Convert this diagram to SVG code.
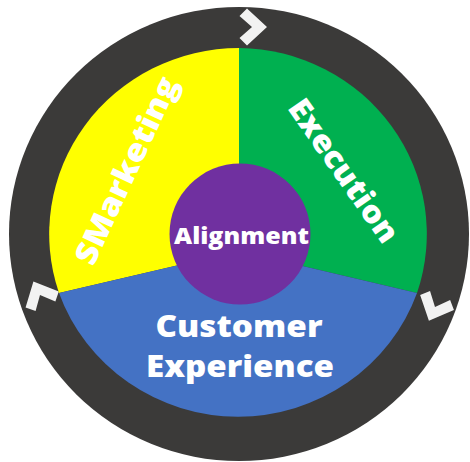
<svg xmlns="http://www.w3.org/2000/svg" width="470" height="462" viewBox="0 0 470 462">
<defs>
<style>
.lbl{font-family:"Open Sans","Liberation Sans",sans-serif;font-weight:800;fill:#ffffff;text-anchor:middle}
.chev{fill:#f2f2f2}
</style>
<polygon id="chevron" points="-5,-18.5 15,0 -5,18.5 -12.5,11 0,0 -12.5,-11"/>
</defs>
<rect width="470" height="462" fill="#ffffff"/>
<g id="ring">
<ellipse cx="239" cy="234" rx="230" ry="227" fill="#3b3a39"/>
</g>
<g id="connectors">
<use href="#chevron" class="chev" transform="translate(252,27)"/>
<use href="#chevron" class="chev" transform="translate(435,307) rotate(114)"/>
<use href="#chevron" class="chev" transform="translate(40,295) rotate(-116)"/>
</g>
<g id="smarketing">
<path d="M239,251 L239,48 A190,186 0 0,0 59,293 Z" fill="#ffff00"/>
<text class="lbl" font-size="31" textLength="203" lengthAdjust="spacingAndGlyphs" transform="translate(131.5,173) rotate(-65)" y="5">SMarketing</text>
</g>
<g id="execution">
<path d="M239,251 L239,48 A190,186 0 0,1 417,293 Z" fill="#00b050"/>
<text class="lbl" font-size="31" textLength="168" lengthAdjust="spacingAndGlyphs" transform="translate(339,174) rotate(55)" y="5">Execution</text>
</g>
<g id="customer-experience">
<path d="M239,251 L59,293 A190,186 0 0,0 417,293 Z" fill="#4472c4"/>
<text class="lbl" font-size="30" x="239" y="337" textLength="167" lengthAdjust="spacingAndGlyphs">Customer</text>
<text class="lbl" font-size="30" x="240" y="377" textLength="188" lengthAdjust="spacingAndGlyphs">Experience</text>
</g>
<g id="alignment">
<circle cx="240" cy="234" r="70.5" fill="#7030a0"/>
<text class="lbl" font-size="22" x="241.5" y="244" textLength="135" lengthAdjust="spacingAndGlyphs">Alignment</text>
</g>
</svg>
